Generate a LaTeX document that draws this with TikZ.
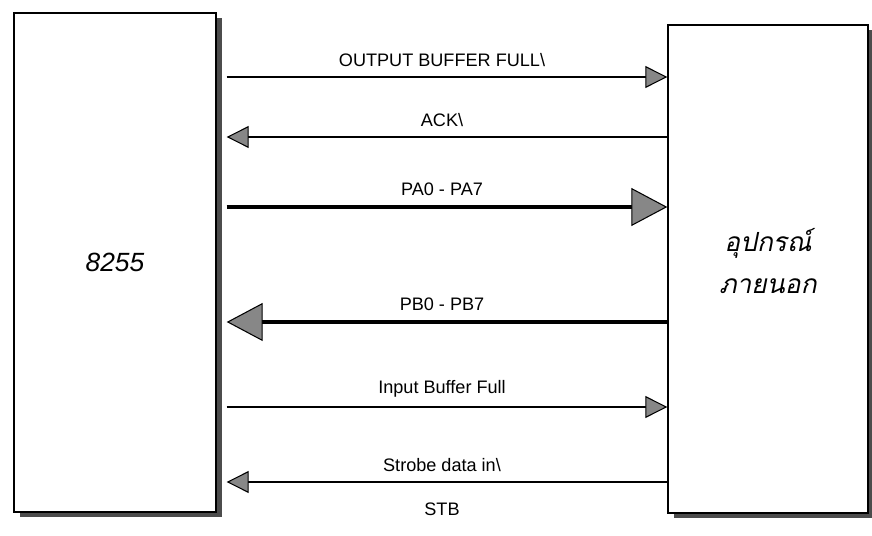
\documentclass[tikz,border=0pt]{standalone}
\usepackage{fontspec}
\setmainfont{Liberation Sans}
\newfontfamily\thaifont[Script=Thai,FakeSlant=0.2]{Loma}
\usetikzlibrary{arrows.meta,shadows}
\definecolor{tipgray}{RGB}{135,135,135}

\tikzset{
  unitbox/.style={draw, line width=0.8pt, fill=white, drop shadow={shadow xshift=0.12cm, shadow yshift=-0.1cm, fill=black!70, opacity=1}},
  sig/.style={line width=0.9pt},
  bus/.style={line width=2pt},
  fwd/.style={-{Triangle[length=0.44cm,width=0.44cm,fill=tipgray,line width=0.6pt]}, shorten <=0.2cm},
  back/.style={{Triangle[length=0.44cm,width=0.44cm,fill=tipgray,line width=0.6pt]}-, shorten <=0.2cm},
  bigfwd/.style={-{Triangle[length=0.72cm,width=0.76cm,fill=tipgray,line width=0.6pt]}, shorten <=0.2cm},
  bigback/.style={{Triangle[length=0.72cm,width=0.76cm,fill=tipgray,line width=0.6pt]}-, shorten <=0.2cm},
  lbl/.style={font=\fontsize{10.3}{12}\selectfont, midway, above=2pt}
}

\begin{document}
\begin{tikzpicture}[x=0.02cm, y=-0.02cm]
  \useasboundingbox (0,0) rectangle (872,536);

  % the two units
  \node[unitbox, minimum width=4.04cm, minimum height=9.98cm, font=\fontsize{15}{18}\selectfont\itshape] (chip) at (115,262.5) {8255};
  \node[unitbox, minimum width=4cm, minimum height=9.76cm] (ext) at (768,269) {};
  \node[font=\fontsize{15}{24}\selectfont\thaifont, align=center] (extname) at (768,261) {อุปกรณ์\\ภายนอก};

  % handshake and data lines
  \draw[sig, fwd] (chip.east |- 0,77) -- (ext.west |- 0,77) node[lbl] {OUTPUT BUFFER FULL\textbackslash};
  \draw[sig, back] (chip.east |- 0,137) -- (ext.west |- 0,137) node[lbl] {ACK\textbackslash};
  \draw[bus, bigfwd] (chip.east |- 0,207) -- (ext.west |- 0,207) node[lbl] {PA0 - PA7};
  \draw[bus, bigback] (chip.east |- 0,322) -- (ext.west |- 0,322) node[lbl] {PB0 - PB7};
  \draw[sig, fwd] (chip.east |- 0,407) -- (ext.west |- 0,407) node[lbl] {Input Buffer Full};
  \draw[sig, back] (chip.east |- 0,482) -- (ext.west |- 0,482) node[lbl] {Strobe data in\textbackslash}
    node[font=\fontsize{10.3}{12}\selectfont, midway, below=8pt] {STB};
\end{tikzpicture}
\end{document}
